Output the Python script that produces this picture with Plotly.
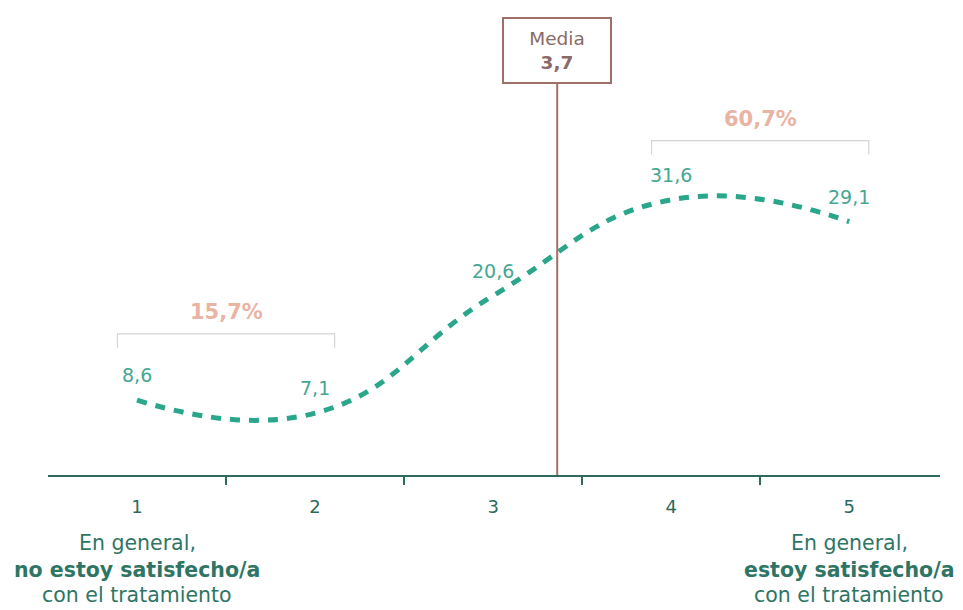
import plotly.graph_objects as go

# Satisfaction scale (1-5) and share of respondents (%)
categories = [1, 2, 3, 4, 5]
values = [8.6, 7.1, 20.6, 31.6, 29.1]
value_labels = ["8,6", "7,1", "20,6", "31,6", "29,1"]

# Grouped shares shown above the extremes of the scale
low_group = [1, 2]
low_label = "15,7%"
high_group = [4, 5]
high_label = "60,7%"

# Mean marker
media_text = "Media"
media_value_label = "3,7"
media_line_pos = 3.36

left_caption = ["En general,", "<b>no estoy satisfecho/a</b>", "con el tratamiento"]
right_caption = ["En general,", "<b>estoy satisfecho/a</b>", "con el tratamiento"]

FONT = "DejaVu Sans"
TEAL = "#2aa68b"
TEAL_LABEL = "#45a792"
AXIS = "#2d6a5d"
CAPTION = "#2f7565"
SALMON = "#e9b4a3"
BRACKET = "#d4d4d4"
BROWN = "#a06f68"

Y_MAX = 53.4

fig = go.Figure()

fig.add_trace(go.Scatter(
    x=categories, y=values, mode="lines",
    line=dict(color=TEAL, width=5, dash="10px,9px", shape="spline", smoothing=1.3),
    hoverinfo="skip", showlegend=False,
))

annotations = []
for x, v, t in zip(categories, values, value_labels):
    annotations.append(dict(
        x=x, y=v, text=t, showarrow=False, yshift=25,
        font=dict(family=FONT, size=19, color=TEAL_LABEL),
    ))

shapes = []


def bracket(group, level, label):
    x0 = group[0] - 0.11
    x1 = group[-1] + 0.11
    drop = 1.6
    shapes.append(dict(
        type="path", xref="x", yref="y",
        path=f"M {x0},{level - drop} L {x0},{level} L {x1},{level} L {x1},{level - drop}",
        line=dict(color=BRACKET, width=1.2),
    ))
    annotations.append(dict(
        x=(x0 + x1) / 2, y=level, text=f"<b>{label}</b>", showarrow=False,
        yshift=22, font=dict(family=FONT, size=21, color=SALMON),
    ))


bracket(low_group, 16.2, low_label)
bracket(high_group, 38.4, high_label)

# Mean line and its boxed label
media_box_center = 48.8
shapes.append(dict(
    type="line", xref="x", yref="y",
    x0=media_line_pos, x1=media_line_pos, y0=0, y1=media_box_center - 3.6,
    line=dict(color=BROWN, width=2),
))
annotations.append(dict(
    x=media_line_pos, y=media_box_center,
    text=f"{media_text}<br><b>{media_value_label}</b>",
    showarrow=False, align="center",
    width=104, height=61,
    bordercolor=BROWN, borderwidth=2, bgcolor="white",
    font=dict(family=FONT, size=18.5, color="#8a6a66"),
))

# Captions under both ends of the scale (pixel rows converted to paper units)
plot_bottom_px, plot_height_px = 475, 465
caption_rows_px = [543, 570, 595]
line_y = [-(r - plot_bottom_px) / plot_height_px for r in caption_rows_px]
for xpos, lines in ((1, left_caption), (5, right_caption)):
    for txt, yy in zip(lines, line_y):
        annotations.append(dict(
            x=xpos, xref="x", y=yy, yref="paper", yanchor="middle",
            text=txt, showarrow=False,
            font=dict(family=FONT, size=20.5, color=CAPTION),
        ))

fig.update_layout(
    width=963, height=610,
    margin=dict(l=48, r=23, t=10, b=135),
    plot_bgcolor="white", paper_bgcolor="white",
    showlegend=False,
    shapes=shapes,
    annotations=annotations,
    xaxis=dict(
        range=[0.5, 5.51], tickvals=categories, ticktext=[str(c) for c in categories],
        ticks="", showgrid=False, zeroline=False,
        showline=True, linecolor=AXIS, linewidth=2,
        tickfont=dict(family=FONT, size=18, color=AXIS),
        ticklabelstandoff=14,
        minor=dict(tickvals=[1.5, 2.5, 3.5, 4.5], ticks="outside", ticklen=8,
                   tickcolor=AXIS, tickwidth=1.5, showgrid=False),
    ),
    yaxis=dict(range=[0, Y_MAX], visible=False, showgrid=False, zeroline=False),
)

fig.write_html("out.html")
